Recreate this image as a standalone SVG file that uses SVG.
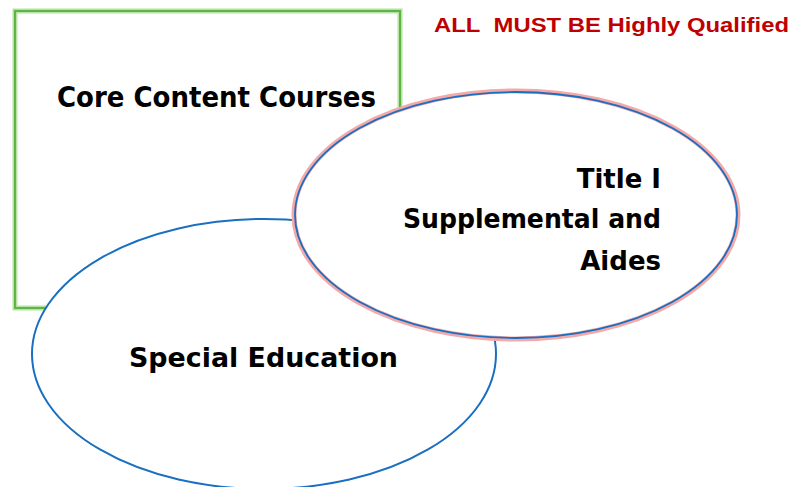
<svg xmlns="http://www.w3.org/2000/svg" width="794" height="487" viewBox="0 0 794 487">
<style>
.lbl{font-family:"DejaVu Sans","Liberation Sans",sans-serif;font-weight:bold;fill:#000;}
.big{font-size:29px;}
.mid{font-size:26px;}
.warn{font-family:"Liberation Sans",Arial,sans-serif;font-weight:bold;font-size:20px;fill:#C00000;white-space:pre;}
</style>
<rect width="794" height="487" fill="#fff"/>
<g id="core">
<rect x="15" y="11" width="385" height="297" fill="#fff" stroke="#b6e3a4" stroke-width="5"/>
<rect x="15" y="11" width="385" height="297" fill="none" stroke="#5db545" stroke-width="2"/>
<text class="lbl big" x="57" y="107" textLength="319" lengthAdjust="spacingAndGlyphs">Core Content Courses</text>
</g>
<g id="sped">
<ellipse cx="264" cy="354" rx="232" ry="135" fill="#fff" stroke="#1a6fc0" stroke-width="2"/>
<text class="lbl mid" x="129" y="367" textLength="269" lengthAdjust="spacingAndGlyphs">Special Education</text>
</g>
<g id="title1">
<ellipse cx="516" cy="215" rx="222" ry="124" fill="#fff" stroke="#f3a9a9" stroke-width="5"/>
<ellipse cx="516" cy="215" rx="221" ry="123" fill="none" stroke="#1a6fc0" stroke-width="1.8"/>
<text class="lbl mid" text-anchor="end" x="661" y="188">Title I</text>
<text class="lbl mid" x="403" y="228" textLength="258" lengthAdjust="spacingAndGlyphs">Supplemental and</text>
<text class="lbl mid" text-anchor="end" x="661" y="270">Aides</text>
</g>
<g id="note">
<text class="warn" x="434" y="32" textLength="355" lengthAdjust="spacingAndGlyphs">ALL&#160; MUST BE Highly Qualified</text>
</g>
<g id="connectors"></g>
</svg>
